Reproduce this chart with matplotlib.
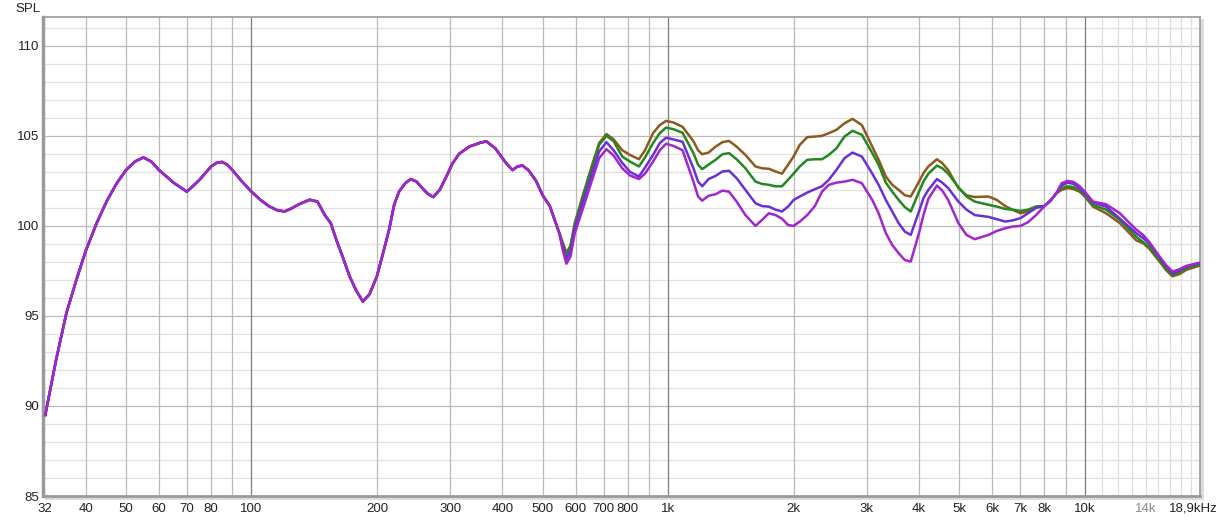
import numpy as np
import matplotlib
matplotlib.use('Agg')
import matplotlib.pyplot as plt
import matplotlib.transforms as mtransforms
from matplotlib.patches import Rectangle

plt.rcParams['font.family'] = ['Liberation Sans', 'DejaVu Sans']

# shared low-frequency part (all four curves overlap here)
low_freq = [32, 34, 36, 38, 40, 42.5, 45, 47.5, 50, 52.5, 55, 57.5, 60, 65, 70, 75, 80, 82.5, 85,
            87.5, 90, 95, 100, 105, 110, 115, 120, 125, 130, 138, 144, 150, 155, 160, 166, 172, 178,
            185, 192, 200, 207, 214, 220, 226, 234, 241, 249, 257, 265, 273, 283, 293, 304, 315,
            333, 352, 366, 385, 408, 423, 435, 447, 462, 482, 500, 520, 548]
low_spl = [89.5, 92.6, 95.2, 97.0, 98.6, 100.15, 101.4, 102.37, 103.1, 103.57, 103.8, 103.57, 103.1,
           102.4, 101.9, 102.55, 103.3, 103.5, 103.55, 103.4, 103.1, 102.45, 101.9, 101.45, 101.1,
           100.88, 100.8, 100.98, 101.2, 101.45, 101.35, 100.6, 100.15, 99.2, 98.2, 97.2, 96.45,
           95.8, 96.2, 97.2, 98.5, 99.8, 101.17, 101.9, 102.37, 102.6, 102.46, 102.1, 101.78, 101.6,
           102.0, 102.7, 103.48, 104.0, 104.4, 104.6, 104.7, 104.3, 103.5, 103.1, 103.3, 103.35,
           103.1, 102.5, 101.7, 101.1, 99.6]

# upper part, where the curves split
high_freq = [558, 570, 583, 597, 623, 659, 683, 711, 740, 776, 810, 851, 880, 920, 955, 989, 1030,
             1083, 1150, 1180, 1207, 1250, 1300, 1350, 1400, 1460, 1533, 1620, 1680, 1745, 1810,
             1876, 1940, 2000, 2070, 2157, 2250, 2340, 2430, 2533, 2650, 2770, 2917, 3090, 3200,
             3330, 3450, 3575, 3700, 3822, 4000, 4100, 4212, 4417, 4550, 4700, 4974, 5200, 5443,
             5875, 6150, 6442, 6700, 7012, 7300, 7640, 8004, 8300, 8535, 8800, 9093, 9400, 9720,
             10000, 10460, 11250, 12140, 12700, 13280, 13800, 14250, 15220, 15700, 16240, 16900,
             17530, 18900]
brown_high = [99.1, 98.5, 98.9, 100.15, 101.63, 103.48, 104.6, 105.1, 104.8, 104.2, 103.94, 103.7,
              104.2, 105.15, 105.6, 105.83, 105.74, 105.5, 104.7, 104.2, 103.98, 104.07, 104.4,
              104.65, 104.72, 104.4, 103.94, 103.3, 103.2, 103.17, 103.02, 102.9, 103.4, 103.85,
              104.5, 104.93, 104.96, 105.0, 105.15, 105.33, 105.7, 105.94, 105.6, 104.4, 103.67,
              102.74, 102.28, 102.0, 101.7, 101.63, 102.46, 102.93, 103.3, 103.7, 103.48, 103.1,
              102.1, 101.7, 101.6, 101.63, 101.44, 101.1, 100.9, 100.7, 100.8, 101.07, 101.1,
              101.44, 101.8, 102.0, 102.1, 102.04, 101.9, 101.63, 101.07, 100.7, 100.15, 99.68,
              99.2, 99.04, 98.76, 97.93, 97.52, 97.2, 97.33, 97.56, 97.8]
green_high = [99.05, 98.4, 98.85, 100.1, 101.54, 103.4, 104.5, 105.0, 104.7, 103.85, 103.57, 103.3,
              103.8, 104.6, 105.15, 105.46, 105.37, 105.17, 104.04, 103.4, 103.15, 103.4, 103.67,
              103.98, 104.04, 103.7, 103.2, 102.46, 102.33, 102.28, 102.2, 102.2, 102.56, 102.9,
              103.3, 103.67, 103.7, 103.7, 103.94, 104.3, 104.96, 105.28, 105.06, 104.04, 103.4,
              102.4, 101.9, 101.44, 101.04, 100.8, 101.9, 102.46, 102.9, 103.35, 103.2, 102.9,
              102.15, 101.63, 101.35, 101.17, 101.07, 100.94, 100.9, 100.83, 100.9, 101.07, 101.1,
              101.44, 101.8, 102.1, 102.2, 102.15, 101.96, 101.7, 101.17, 100.9, 100.33, 99.87,
              99.4, 99.1, 98.85, 98.0, 97.6, 97.3, 97.42, 97.65, 97.87]
blue_high = [98.9, 98.15, 98.6, 99.87, 101.26, 103.02, 104.13, 104.65, 104.2, 103.5, 103.0, 102.74,
             103.24, 103.94, 104.6, 104.9, 104.8, 104.67, 103.2, 102.46, 102.2, 102.6, 102.78,
             103.02, 103.06, 102.65, 102.0, 101.26, 101.1, 101.07, 100.9, 100.8, 101.07, 101.44,
             101.63, 101.85, 102.04, 102.2, 102.56, 103.1, 103.76, 104.07, 103.85, 102.9, 102.28,
             101.44, 100.8, 100.15, 99.68, 99.5, 100.8, 101.54, 102.0, 102.6, 102.4, 102.1, 101.35,
             100.9, 100.6, 100.5, 100.37, 100.24, 100.3, 100.43, 100.7, 101.0, 101.1, 101.44,
             101.8, 102.24, 102.4, 102.33, 102.1, 101.8, 101.3, 101.07, 100.4, 100.0, 99.6, 99.32,
             99.04, 98.15, 97.74, 97.37, 97.52, 97.74, 97.93]
purple_high = [98.7, 97.9, 98.3, 99.6, 100.9, 102.65, 103.76, 104.26, 103.9, 103.2, 102.8, 102.6,
               102.9, 103.57, 104.2, 104.56, 104.44, 104.2, 102.46, 101.63, 101.4, 101.67, 101.76,
               101.96, 101.9, 101.35, 100.6, 100.0, 100.33, 100.7, 100.6, 100.4, 100.05, 100.0,
               100.24, 100.6, 101.1, 101.9, 102.28, 102.4, 102.46, 102.56, 102.37, 101.44, 100.7,
               99.6, 98.94, 98.48, 98.1, 98.02, 99.6, 100.6, 101.5, 102.24, 101.96, 101.44, 100.15,
               99.5, 99.26, 99.5, 99.72, 99.87, 99.96, 100.0, 100.2, 100.6, 101.1, 101.44, 101.8,
               102.37, 102.5, 102.44, 102.2, 101.9, 101.35, 101.2, 100.7, 100.24, 99.8, 99.5, 99.13,
               98.2, 97.8, 97.46, 97.6, 97.78, 97.96]

tick_freq = [32, 40, 50, 60, 70, 80, 100, 200, 300, 400, 500, 600, 700, 800, 1000, 2000, 3000,
             4000, 5000, 6000, 7000, 8000, 10000, 14000, 18900]
tick_labels = ['32', '40', '50', '60', '70', '80', '100', '200', '300', '400', '500', '600', '700',
               '800', '1k', '2k', '3k', '4k', '5k', '6k', '7k', '8k', '10k', '14k', '18,9kHz']

freq = np.array(low_freq + high_freq)
curves = [
    (brown_high, '#8c5a1c'),
    (green_high, '#23891f'),
    (blue_high, '#6a30d4'),
    (purple_high, '#a226cc'),
]

fig = plt.figure(figsize=(12.22, 5.21), dpi=100)
ax = fig.add_axes([43 / 1222, 1 - 496 / 521, 1157 / 1222, 479 / 521])

# soft shadow behind the plot frame
fig.patches.append(Rectangle((45 / 1222, 1 - 500 / 521), 1159 / 1222, 481 / 521,
                             transform=fig.transFigure, facecolor='#dcdcdc', edgecolor='none',
                             zorder=-5))

ax.set_xscale('log')
ax.set_xlim(31.6, 18900)
ax.set_ylim(85, 111.6)

# grid
for v in range(85, 112):
    col = '#bcbcbc' if v % 5 == 0 else '#e2e2e2'
    ax.axhline(v, color=col, lw=0.9, zorder=1)
for d in (10, 100, 1000):
    for m in range(1, 10):
        f = m * d
        if f < 31.6:
            continue
        col = '#7c7c7c' if m == 1 else '#bababa'
        ax.axvline(f, color=col, lw=0.9, zorder=1)
ax.axvline(10000, color='#7c7c7c', lw=0.9, zorder=1)
for f in range(11000, 19000, 1000):
    ax.axvline(f, color='#dedede', lw=0.9, zorder=1)

for high, col in curves:
    spl = np.array(low_spl + high)
    ax.plot(freq, spl, color=col, lw=1.8, zorder=3, solid_joinstyle='round')

ax.set_yticks([85, 90, 95, 100, 105, 110])
ax.set_xticks(tick_freq)
ax.set_xticklabels(tick_labels)
ax.minorticks_off()
ax.tick_params(axis='both', length=0, labelsize=9.5, colors='#222222')
ax.tick_params(axis='x', pad=5)
ax.tick_params(axis='y', pad=3)
for lab in ax.get_xticklabels():
    if lab.get_text() == '14k':
        lab.set_color('#8a8a8a')
    if lab.get_text() == '18,9kHz':
        lab.set_transform(lab.get_transform() + mtransforms.ScaledTranslation(-7 / 100, 0, fig.dpi_scale_trans))

for s in ax.spines.values():
    s.set_color('#9a9a9a')
    s.set_linewidth(1.2)
ax.spines['left'].set_linewidth(2.5)
ax.spines['bottom'].set_linewidth(2.0)

fig.text(28 / 1222, 1 - 9 / 521, 'SPL', ha='center', va='center', fontsize=9.5, color='#222222')

fig.savefig('out.png', dpi=100, facecolor='white')
